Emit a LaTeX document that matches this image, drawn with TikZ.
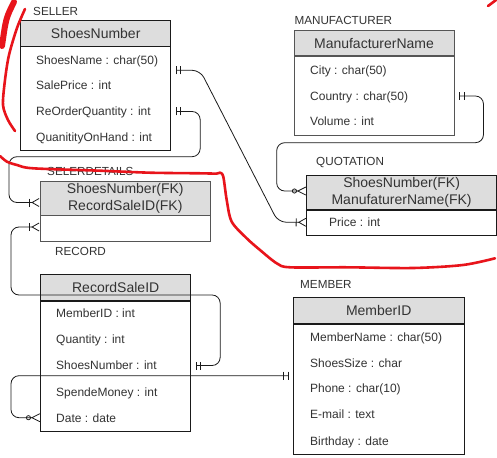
\documentclass[tikz,border=0pt]{standalone}
\usepackage{fontspec}
\setmainfont{Liberation Sans}
\usetikzlibrary{arrows.meta,positioning}
\definecolor{ink}{HTML}{1A1A1A}
\definecolor{textgray}{HTML}{333333}
\definecolor{edgegray}{HTML}{555555}
\definecolor{headfill}{HTML}{DDDDDD}
\definecolor{markred}{HTML}{E8141B}
\tikzset{
  onlyone/.tip={Bar[width=8pt,sep=4pt]Bar[width=8pt,sep=4.5pt]},
  onemany/.tip={Bar[width=8pt,sep=1.5pt]Straight Barb[reversed,length=7pt,width=8pt]},
  zeromany/.tip={Circle[open,length=5pt,width=5pt,sep=0pt]Straight Barb[reversed,length=8pt,width=8pt]},
  tablelabel/.style={anchor=west,inner sep=0pt,text height=8.4pt,text depth=0pt,
                     font=\fontsize{11.7}{14}\selectfont,text=textgray},
  headbox/.style={draw=ink,fill=headfill,line width=0.9pt,inner sep=0pt,
                  align=center,font=\fontsize{14}{16.8}\selectfont,text=textgray},
  bodybox/.style={draw=ink,fill=white,line width=0.9pt,inner sep=0pt},
  attr/.style={anchor=west,inner sep=0pt,text height=8.6pt,text depth=0pt,
               font=\fontsize{12}{14}\selectfont,text=textgray},
  relline/.style={draw=ink,line width=0.8pt,rounded corners=8pt},
  redmark/.style={draw=markred,line width=2.6pt,line cap=round,line join=round}
}

\begin{document}
\begin{tikzpicture}[x=1pt,y=-1pt]
  \useasboundingbox[fill=white] (0,0) rectangle (497,457);

  % SELLER
  \node[tablelabel] (sellerlabel) at (33,11) {SELLER};
  \node[headbox,minimum width=150pt,minimum height=26pt] (sellerhead) at (95.7,33) {ShoesNumber};
  \node[bodybox,minimum width=150pt,minimum height=104pt,below=0pt of sellerhead] (sellerbody) {};
  \foreach \n/\y/\t in {sname/60/ShoesName : char(50),sprice/85.7/SalePrice : int,
                        sreorder/111.5/ReOrderQuantity : int,sonhand/137.3/QuanitityOnHand : int} {
    \node[attr] (\n) at (36,\y) {\t};
  }

  % SELERDETAILS
  \node[tablelabel] (detaillabel) at (47,171.7) {SELERDETAILS};
  \node[headbox,draw=edgegray,minimum width=170.7pt,minimum height=34pt] (detailhead) at (125.3,198)
    {ShoesNumber(FK)\\RecordSaleID(FK)};
  \node[bodybox,draw=edgegray,minimum width=170.7pt,minimum height=25.7pt,below=0pt of detailhead] (detailbody) {};

  % RECORD
  \node[tablelabel] (recordlabel) at (55,251.7) {RECORD};
  \node[headbox,minimum width=150pt,minimum height=25.7pt] (recordhead) at (115.7,287.2) {RecordSaleID};
  \node[bodybox,minimum width=150pt,minimum height=130pt,below=0pt of recordhead] (recordbody) {};
  \foreach \n/\y/\t in {rmember/313.3/MemberID : int,rquantity/339.3/Quantity : int,
                        rshoes/365.5/ShoesNumber : int,rspend/391.7/SpendeMoney : int,rdate/417.7/Date : date} {
    \node[attr] (\n) at (56,\y) {\t};
  }

  % MANUFACTURER
  \node[tablelabel] (makerlabel) at (294.3,20.7) {MANUFACTURER};
  \node[headbox,draw=edgegray,minimum width=160pt,minimum height=25.3pt] (makerhead) at (374,43.3) {ManufacturerName};
  \node[bodybox,draw=edgegray,minimum width=160pt,minimum height=78.3pt,below=0pt of makerhead] (makerbody) {};
  \foreach \n/\y/\t in {mcity/70/City : char(50),mcountry/96/Country : char(50),mvolume/121.7/Volume : int} {
    \node[attr] (\n) at (310,\y) {\t};
  }

  % QUOTATION
  \node[tablelabel] (quotelabel) at (316,161.7) {QUOTATION};
  \node[headbox,minimum width=189.8pt,minimum height=33.6pt] (quotehead) at (401.6,192.5)
    {ShoesNumber(FK)\\ManufaturerName(FK)};
  \node[bodybox,minimum width=189.8pt,minimum height=25.7pt,below=0pt of quotehead] (quotebody) {};
  \node[attr] (qprice) at (329,222.3) {Price : int};

  % MEMBER
  \node[tablelabel] (memberlabel) at (300,284) {MEMBER};
  \node[headbox,minimum width=170.7pt,minimum height=25.6pt] (memberhead) at (378.7,310.5) {MemberID};
  \node[bodybox,minimum width=170.7pt,minimum height=130pt,below=0pt of memberhead] (memberbody) {};
  \foreach \n/\y/\t in {mname/336.7/MemberName : char(50),msize/362.7/ShoesSize : char,
                        mphone/388.5/Phone : char(10),memail/414.5/E-mail : text,mbirth/440.7/Birthday : date} {
    \node[attr] (\n) at (310,\y) {\t};
  }

  % relations
  \draw[relline,{onlyone}-{onemany}] (sellerbody.east |- 0,70.3) -- ++(29,0) -- ++(78,151.9)
    -- (quotebody.west |- qprice);
  \draw[relline,{onlyone}-{onemany}] (sellerbody.east |- sreorder) -- ++(29,0) |- (9,156.7)
    |- (detailhead.west |- 0,202.5);
  \draw[relline,{onlyone}-{onemany}] (recordbody.east |- rshoes) -- ++(29,0) |- (11,295)
    |- (detailbody.west |- 0,227);
  \draw[relline,{onlyone}-{zeromany}] (makerbody.east |- mcountry) -- ++(29,0) |- (276.7,142.7)
    |- (quotehead.west |- 0,191);
  \draw[relline,{onlyone}-{zeromany}] (memberbody.west |- 0,375.7) -- (11,375.7) |- (recordbody.west |- rdate);

  % red pen marks
  \draw[redmark,line width=6pt] (14,2) .. controls (6,18) .. (2,46);
  \draw[redmark] plot[smooth] coordinates {(25,9) (17,28) (9,55) (5,80) (3,105) (8,120) (15,131)};
  \draw[redmark] plot[smooth] coordinates {(0,156) (7,161.7) (17,165) (33,168.3) (100,170.7) (150,172.7)
    (200,173.3) (216.7,173.6) (220,172.7) (223.3,176.7) (226.7,200) (231.7,221.7) (246.7,238.3)
    (260,250) (276.7,263.3) (290,267.3) (346.7,267.3) (413,268) (463,265) (495,258.3)};
  \draw[redmark] (488,6) -- (496,0);
\end{tikzpicture}
\end{document}
